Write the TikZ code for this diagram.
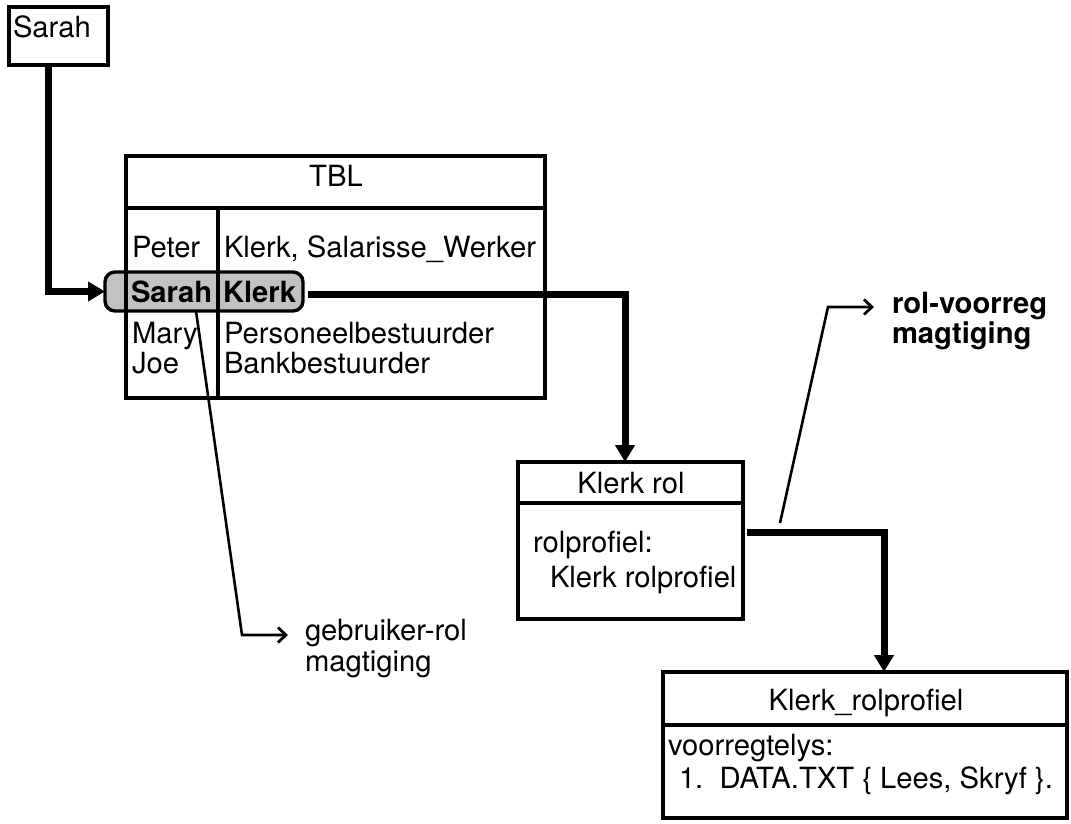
\documentclass[tikz,border=0pt]{standalone}
\usepackage{fontspec}
\setmainfont{TeX Gyre Heros}
\usetikzlibrary{arrows.meta,calc}
\begin{document}
\begin{tikzpicture}[x=1pt,y=-1pt,
  every node/.style={font=\fontsize{29.2pt}{31pt}\selectfont, inner sep=0pt, outer sep=0pt},
  box/.style={draw, line width=3.4pt, rectangle, anchor=north west},
  txt/.style={anchor=base west},
  ctxt/.style={anchor=base},
  boldtxt/.style={anchor=base west, font=\fontsize{29.2pt}{31pt}\selectfont\bfseries},
  rule/.style={line width=3.4pt},
  flow/.style={line width=7pt, -{Triangle[length=17pt,width=19pt]}},
  note/.style={line width=2.6pt, -{Straight Barb[length=8pt,width=15pt,line width=2.8pt]}},
]
\useasboundingbox (0,0) rectangle (1071,824);

% user box
\node[box, minimum width=99pt, minimum height=58pt] (sarah) at (9,7) {};
\node[txt] (sarahname) at (13,38) {Sarah};

% selected row of the table
\node[draw, line width=3.4pt, rounded corners=10pt, fill=black!24, anchor=north west,
      minimum width=198pt, minimum height=39pt] (sel) at (105,272) {};

% user-role table
\node[box, minimum width=419pt, minimum height=242pt] (tbl) at (126,156) {};
\draw[rule] ([yshift=-52pt]tbl.north west) -- ([yshift=-52pt]tbl.north east);
\draw[rule] ([xshift=92pt,yshift=-52pt]tbl.north west) -- ([xshift=92pt]tbl.south west);
\node[ctxt] (tbltitle) at (336,186) {TBL};
\node[txt] (u1) at (132,257) {Peter};
\node[txt] (r1) at (224,257) {Klerk, Salarisse\_Werker};
\node[boldtxt] (u2) at (131,302) {Sarah};
\node[boldtxt] (r2) at (223,302) {Klerk};
\node[txt] (u3) at (132,343) {Mary};
\node[txt] (r3) at (224,343) {Personeelbestuurder};
\node[txt] (u4) at (132,373) {Joe};
\node[txt] (r4) at (224,373) {Bankbestuurder};

% role box
\node[box, minimum width=225pt, minimum height=157pt] (klerkrol) at (518,462) {};
\draw[rule] ([yshift=-41pt]klerkrol.north west) -- ([yshift=-41pt]klerkrol.north east);
\node[ctxt] (kroltitle) at (631,493) {Klerk rol};
\node[txt] (krol1) at (533,552) {rolprofiel:};
\node[txt] (krol2) at (550,587) {Klerk rolprofiel};

% role profile box
\node[box, minimum width=404pt, minimum height=146pt] (klrp) at (663,672) {};
\draw[rule] ([yshift=-53pt]klrp.north west) -- ([yshift=-53pt]klrp.north east);
\node[ctxt] (klrptitle) at (866,710) {Klerk\_rolprofiel};
\node[txt] (klrp1) at (668,755) {voorregtelys:};
\node[txt] (klrp2) at (679,788) {1.\ \ DATA.TXT \{ Lees, Skryf \}.};

% flow of the authorisation
\draw[flow] ([xshift=39pt]sarah.south west) |- (sel.west);
\draw[flow] ([xshift=5pt,yshift=-2.5pt]sel.east) -| ([xshift=-5.5pt]klerkrol.north);
\draw[flow] ([xshift=4pt,yshift=8.5pt]klerkrol.east) -| ([xshift=19pt]klrp.north);

% annotations
\coordinate (gbend) at (242,635);
\coordinate (gbtip) at (288,635);
\node[txt] (gb1) at (305,640) {gebruiker-rol};
\node[txt] (gb2) at (305,671) {magtiging};
\draw[note] ([xshift=-8pt]sel.south) -- (gbend) -- (gbtip);

\coordinate (rvstart) at (780,523);
\coordinate (rvbend) at (828,307);
\coordinate (rvtip) at (874,307);
\node[boldtxt] (rv1) at (892,313) {rol-voorreg};
\node[boldtxt] (rv2) at (892,343) {magtiging};
\draw[note] (rvstart) -- (rvbend) -- (rvtip);
\end{tikzpicture}
\end{document}
